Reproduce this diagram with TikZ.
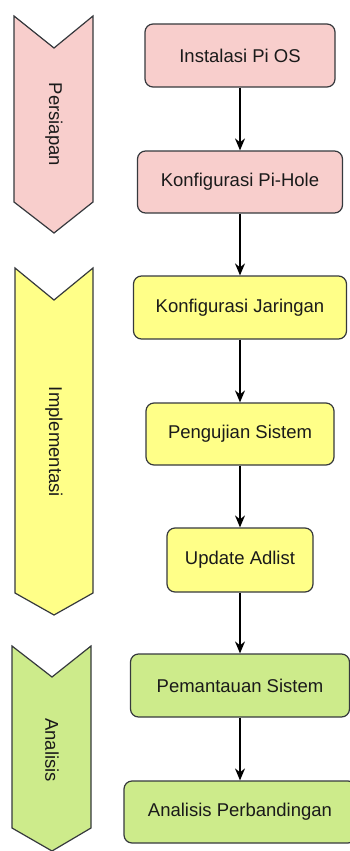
\documentclass[tikz,border=0pt]{standalone}
\usepackage{fontspec}
\setmainfont{Liberation Sans}
\usetikzlibrary{arrows.meta}
\definecolor{pinkf}{HTML}{F8CECC}
\definecolor{yellowf}{HTML}{FFFF88}
\definecolor{greenf}{HTML}{CDEB8B}
\definecolor{edge}{HTML}{36393D}
\definecolor{txt}{HTML}{1A1A1A}
\tikzset{
  procbox/.style={draw=edge, line width=1.2pt, rounded corners=8pt, inner sep=0pt,
    font=\fontsize{18.5}{20}\selectfont, text=txt},
  phase/.style={draw=edge, line width=1.2pt, line join=miter},
  phaselabel/.style={rotate=-90, font=\fontsize{18.5}{20}\selectfont, text=txt, inner sep=0pt},
  arr/.style={draw=black, line width=1.4pt, -{Stealth[length=12pt,width=10pt]}}
}
\begin{document}
\begin{tikzpicture}[x=1pt,y=-1pt]
\useasboundingbox (0,0) rectangle (350,851);
\begin{scope}
\clip (0,0) rectangle (350,851);
% phase chevrons
\path[phase, fill=pinkf] (14,16) -- (54,48) -- (93,16) -- (93,202) -- (54,233) -- (14,202) -- cycle;
\node[phaselabel] (p1) at (54,124.5) {Persiapan};
\path[phase, fill=yellowf] (15,268) -- (54,300) -- (93,268) -- (93,593) -- (54,615) -- (15,593) -- cycle;
\node[phaselabel] (p2) at (54,442) {Implementasi};
\path[phase, fill=greenf] (12,646) -- (52,677) -- (91,646) -- (91,828) -- (52,851) -- (12,828) -- cycle;
\node[phaselabel] (p3) at (52,750) {Analisis};
% process boxes
\node[procbox, fill=pinkf, minimum width=190pt, minimum height=63pt] (b1) at (240,55.5) {Instalasi Pi OS};
\node[procbox, fill=pinkf, minimum width=205pt, minimum height=62pt] (b2) at (240,182) {Konfigurasi Pi-Hole};
\node[procbox, fill=yellowf, minimum width=213pt, minimum height=63pt] (b3) at (240,307.5) {Konfigurasi Jaringan};
\node[procbox, fill=yellowf, minimum width=188pt, minimum height=62pt] (b4) at (240,434) {Pengujian Sistem};
\node[procbox, fill=yellowf, minimum width=146pt, minimum height=64pt] (b5) at (240,560) {Update Adlist};
\node[procbox, fill=greenf, minimum width=219pt, minimum height=63pt] (b6) at (240,685.5) {Pemantauan Sistem};
\node[procbox, fill=greenf, minimum width=232pt, minimum height=62pt] (b7) at (240,812) {Analisis Perbandingan};
% connectors
\draw[arr] (b1.south) -- (b1.south |- b2.north);
\draw[arr] (b2.south) -- (b2.south |- b3.north);
\draw[arr] (b3.south) -- (b3.south |- b4.north);
\draw[arr] (b4.south) -- (b4.south |- b5.north);
\draw[arr] (b5.south) -- (b5.south |- b6.north);
\draw[arr] (b6.south) -- (b6.south |- b7.north);
\end{scope}
\end{tikzpicture}
\end{document}
